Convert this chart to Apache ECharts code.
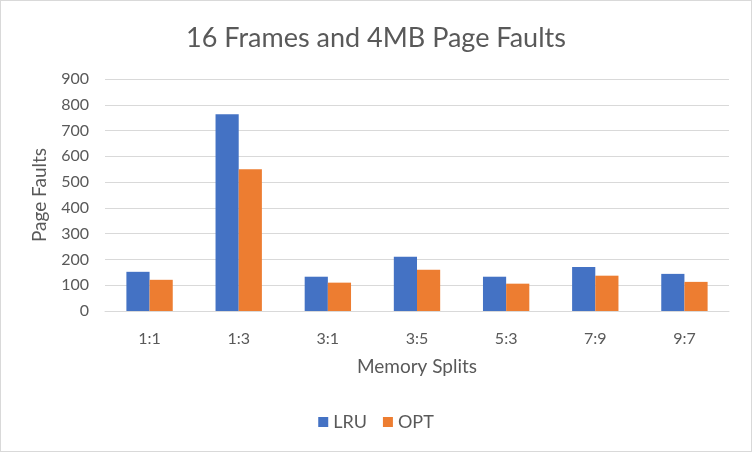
<!DOCTYPE html>
<html><head><meta charset="utf-8">
<script src="https://cdn.jsdelivr.net/npm/echarts@6/dist/echarts.min.js"></script>
<style>html,body{margin:0;padding:0;background:#fff}#c{width:750px;height:450px;border:1px solid #d9d9d9}</style>
</head><body><div id="c"></div>
<script>
const categories = ['1:1','1:3','3:1','3:5','5:3','7:9','9:7'];
const lruValues = [152, 763, 133, 210, 133, 171, 144];
const optValues = [121, 550, 110, 160, 106, 137, 113];
const yTicks = {min: 0, max: 900, interval: 100};
const FONT = 'Lato';
const chart = echarts.init(document.getElementById('c'));
chart.setOption({
  animation: false,
  textStyle: {fontFamily: FONT},
  title: {text: '16 Frames and 4MB Page Faults', left: 'center', top: 19,
    textStyle: {fontFamily: FONT, fontSize: 27, fontWeight: 'normal', color: '#595959'}},
  legend: {data: ['LRU','OPT'], bottom: 15, left: 'center', itemWidth: 10, itemHeight: 10, itemGap: 16,
    icon: 'rect', textStyle: {fontFamily: FONT, fontSize: 18, color: '#595959'}},
  grid: {left: 104, right: 22, top: 78, bottom: 140},
  xAxis: {type: 'category', data: categories,
    name: 'Memory Splits', nameLocation: 'middle', nameGap: 46,
    nameTextStyle: {fontFamily: FONT, fontSize: 19, color: '#595959'},
    axisLine: {lineStyle: {color: '#d9d9d9'}}, axisTick: {show: false},
    axisLabel: {fontFamily: FONT, fontSize: 16, color: '#595959', margin: 20}},
  yAxis: {type: 'value', min: yTicks.min, max: yTicks.max, interval: yTicks.interval,
    name: 'Page Faults', nameLocation: 'middle', nameGap: 56,
    nameTextStyle: {fontFamily: FONT, fontSize: 19, color: '#595959'},
    axisLine: {show: false}, axisTick: {show: false},
    splitLine: {lineStyle: {color: '#d9d9d9', width: 1}},
    axisLabel: {fontFamily: FONT, fontSize: 16, color: '#595959', margin: 16}},
  series: [
    {name: 'LRU', type: 'bar', data: lruValues, barGap: '0%', barCategoryGap: '48%', itemStyle: {color: '#4472c4'}},
    {name: 'OPT', type: 'bar', data: optValues, itemStyle: {color: '#ed7d31'}}
  ]
});
</script></body></html>
